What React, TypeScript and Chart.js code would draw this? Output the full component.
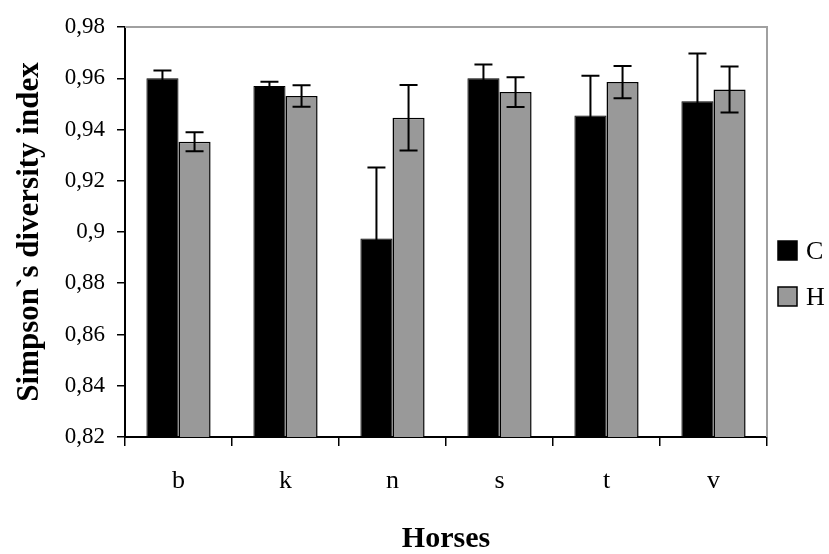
import React, { useEffect, useRef } from "react";
import { Chart, registerables } from "chart.js";

Chart.register(...registerables);

const categories = ["b", "k", "n", "s", "t", "v"];
const seriesC = [0.96, 0.957, 0.8975, 0.96, 0.9455, 0.951];
const errorC = [0.003, 0.0016, 0.0277, 0.0054, 0.0155, 0.0187];
const seriesH = [0.9352, 0.9531, 0.9446, 0.9546, 0.9585, 0.9556];
const errorH = [0.0037, 0.0042, 0.0128, 0.0058, 0.0063, 0.009];
const yTicks = [0.82, 0.84, 0.86, 0.88, 0.9, 0.92, 0.94, 0.96, 0.98];

const FONT = "'Liberation Serif', 'Times New Roman', serif";

const errorBarPlugin = {
  id: "errorBars",
  afterDatasetsDraw(chart: any) {
    const ctx = chart.ctx;
    const y = chart.scales.y;
    chart.data.datasets.forEach((ds: any, di: number) => {
      const meta = chart.getDatasetMeta(di);
      const errs: number[] = ds.errors || [];
      meta.data.forEach((bar: any, i: number) => {
        const v = ds.data[i];
        const e = errs[i];
        if (e == null) return;
        const x = bar.x;
        const yt = y.getPixelForValue(v + e);
        const yb = y.getPixelForValue(v - e);
        ctx.save();
        ctx.strokeStyle = "#000";
        ctx.lineWidth = 2;
        ctx.beginPath();
        ctx.moveTo(x, yt);
        ctx.lineTo(x, yb);
        ctx.moveTo(x - 9, yt);
        ctx.lineTo(x + 9, yt);
        ctx.moveTo(x - 9, yb);
        ctx.lineTo(x + 9, yb);
        ctx.stroke();
        ctx.restore();
      });
    });
  },
};

const frameLegendPlugin = {
  id: "frameLegend",
  beforeDatasetsDraw(chart: any) {
    const { ctx, chartArea } = chart;
    ctx.save();
    ctx.strokeStyle = "#a0a0a0";
    ctx.lineWidth = 2;
    ctx.beginPath();
    ctx.moveTo(chartArea.left, chartArea.top);
    ctx.lineTo(chartArea.right, chartArea.top);
    ctx.lineTo(chartArea.right, chartArea.bottom);
    ctx.stroke();
    ctx.restore();
  },
  afterDraw(chart: any) {
    const { ctx } = chart;
    const items = chart.data.datasets;
    const startY = 250;
    const gap = 46;
    ctx.save();
    items.forEach((ds: any, i: number) => {
      const cy = startY + i * gap;
      ctx.fillStyle = ds.backgroundColor;
      ctx.fillRect(778, cy - 9, 19, 19);
      ctx.strokeStyle = "#000";
      ctx.lineWidth = 1.5;
      ctx.strokeRect(778, cy - 9, 19, 19);
      ctx.fillStyle = "#000";
      ctx.font = `26px ${FONT}`;
      ctx.textBaseline = "middle";
      ctx.textAlign = "left";
      ctx.fillText(ds.label, 806, cy + 2);
    });
    ctx.restore();
  },
};

export default function App() {
  const ref = useRef<HTMLCanvasElement | null>(null);
  useEffect(() => {
    if (!ref.current) return;
    const chart = new Chart(ref.current, {
      type: "bar",
      data: {
        labels: categories,
        datasets: [
          {
            label: "C",
            data: seriesC,
            errors: errorC,
            backgroundColor: "#000000",
            borderColor: "#000000",
            borderWidth: 1,
          } as any,
          {
            label: "H",
            data: seriesH,
            errors: errorH,
            backgroundColor: "#999999",
            borderColor: "#000000",
            borderWidth: 1.5,
          } as any,
        ],
      },
      options: {
        responsive: false,
        animation: false,
        layout: { padding: { top: 27, right: 62, left: 0, bottom: 0 } },
        datasets: { bar: { categoryPercentage: 0.6, barPercentage: 1.0 } },
        plugins: {
          legend: { display: false },
          tooltip: { enabled: false },
        },
        scales: {
          x: {
            afterFit: (s: any) => {
              s.height = 117;
            },
            grid: {
              display: true,
              offset: true,
              drawOnChartArea: false,
              drawTicks: true,
              tickLength: 9,
              color: "#000",
              lineWidth: 1.5,
            },
            border: { display: true, color: "#000", width: 2 },
            ticks: {
              color: "#000",
              font: { family: FONT, size: 26 },
              padding: 20,
            },
            title: {
              display: true,
              text: "Horses",
              color: "#000",
              font: { family: FONT, size: 30, weight: "bold", lineHeight: 1 },
              padding: { top: 0, bottom: 0 },
            },
          },
          y: {
            min: 0.82,
            max: 0.98,
            afterFit: (s: any) => {
              s.width = 125;
            },
            afterBuildTicks: (s: any) => {
              s.ticks = yTicks.map((v) => ({ value: v }));
            },
            grid: {
              display: true,
              drawOnChartArea: false,
              drawTicks: true,
              tickLength: 8,
              color: "#000",
              lineWidth: 1.5,
            },
            border: { display: true, color: "#000", width: 2 },
            ticks: {
              color: "#000",
              font: { family: FONT, size: 23 },
              padding: 12,
              callback: (v: any) => String(Number(Number(v).toFixed(2))).replace(".", ","),
            },
            title: {
              display: true,
              text: "Simpson`s diversity index",
              color: "#000",
              font: { family: FONT, size: 31, weight: "bold", lineHeight: 1 },
              padding: { top: 14, bottom: 0 },
            },
          },
        },
      },
      plugins: [errorBarPlugin, frameLegendPlugin],
    } as any);
    return () => chart.destroy();
  }, []);
  return (
    <div style={{ position: "absolute", left: 0, top: 0, width: 829, height: 554, background: "#fff" }}>
      <canvas ref={ref} width={829} height={554} />
    </div>
  );
}
